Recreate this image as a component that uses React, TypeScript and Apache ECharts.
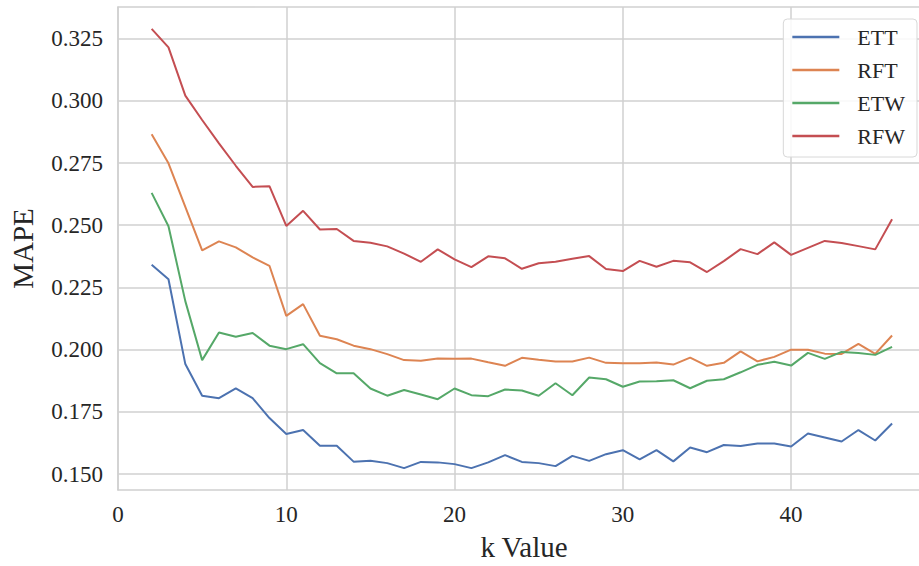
import React, { useEffect, useRef } from "react";
import * as echarts from "echarts";

const kValues = [2,3,4,5,6,7,8,9,10,11,12,13,14,15,16,17,18,19,20,21,22,23,24,25,26,27,28,29,30,31,32,33,34,35,36,37,38,39,40,41,42,43,44,45,46];

const ETT = [0.2341,0.2283,0.1942,0.1815,0.1805,0.1844,0.1805,0.1725,0.1661,0.1677,0.1614,0.1614,0.1550,0.1554,0.1544,0.1524,0.1549,0.1547,0.1540,0.1524,0.1547,0.1576,0.1549,0.1544,0.1532,0.1573,0.1553,0.1580,0.1596,0.1559,0.1596,0.1551,0.1607,0.1588,0.1617,0.1613,0.1623,0.1623,0.1611,0.1663,0.1647,0.1631,0.1677,0.1635,0.1703];
const RFT = [0.2866,0.2749,0.2574,0.2399,0.2435,0.2411,0.2371,0.2337,0.2136,0.2183,0.2056,0.2042,0.2016,0.2002,0.1982,0.1958,0.1955,0.1964,0.1963,0.1964,0.1949,0.1935,0.1967,0.1959,0.1952,0.1952,0.1968,0.1947,0.1945,0.1945,0.1948,0.1940,0.1968,0.1935,0.1947,0.1993,0.1953,0.1971,0.2000,0.2000,0.1984,0.1983,0.2023,0.1983,0.2057];
const ETW = [0.2630,0.2496,0.2195,0.1958,0.2069,0.2052,0.2067,0.2016,0.2002,0.2022,0.1946,0.1905,0.1905,0.1844,0.1815,0.1838,0.1820,0.1801,0.1844,0.1817,0.1813,0.1840,0.1836,0.1815,0.1865,0.1817,0.1888,0.1881,0.1851,0.1872,0.1873,0.1877,0.1845,0.1875,0.1881,0.1909,0.1939,0.1951,0.1936,0.1987,0.1963,0.1991,0.1987,0.1979,0.2011];
const RFW = [0.3289,0.3215,0.3021,0.2923,0.2829,0.2739,0.2654,0.2657,0.2497,0.2558,0.2483,0.2485,0.2437,0.2430,0.2415,0.2386,0.2353,0.2403,0.2363,0.2332,0.2375,0.2367,0.2325,0.2347,0.2353,0.2365,0.2376,0.2324,0.2316,0.2357,0.2333,0.2357,0.2351,0.2312,0.2356,0.2404,0.2384,0.2431,0.2381,0.2409,0.2437,0.2429,0.2416,0.2403,0.2524];

const seriesNames = ["ETT", "RFT", "ETW", "RFW"];
const seriesColors = ["#4c72b0", "#dd8452", "#55a868", "#c44e52"];
const xTicks = [0, 10, 20, 30, 40];
const yTicks = [0.15, 0.175, 0.2, 0.225, 0.25, 0.275, 0.3, 0.325];

const FONT = '"Liberation Serif", "DejaVu Serif", serif';
const TEXT = "#262626";
const GRIDC = "#d0d0d0";
const X_MIN = 0;
const X_MAX = 47.6;
const Y_MIN = 0.1436;
const Y_MAX = 0.3377;

export default function App() {
  const ref = useRef<HTMLDivElement>(null);
  useEffect(() => {
    if (!ref.current) return;
    const chart = echarts.init(ref.current, null, { renderer: "svg" });
    const all = [ETT, RFT, ETW, RFW];
    const spine = { show: true, lineStyle: { color: GRIDC, width: 1.5 } };
    chart.setOption({
      animation: false,
      backgroundColor: "#ffffff",
      textStyle: { fontFamily: FONT },
      grid: {
        left: 118,
        top: 7,
        bottom: 76,
        right: 0,
        show: false,
      },
      legend: {
        orient: "vertical",
        right: 2,
        top: 19,
        align: "left",
        icon: "rect",
        itemWidth: 47,
        itemHeight: 2.5,
        itemGap: 11,
        padding: [7, 12, 10, 9],
        backgroundColor: "rgba(255,255,255,0.85)",
        borderColor: "#d8d8d8",
        borderWidth: 1,
        borderRadius: 4,
        textStyle: {
          fontFamily: FONT,
          fontSize: 22,
          color: TEXT,
          padding: [0, 0, 0, 13],
        },
        data: seriesNames,
      },
      xAxis: [
        {
          type: "value",
          min: X_MIN,
          max: X_MAX,
          name: "k Value",
          nameLocation: "middle",
          nameGap: 42,
          nameTextStyle: {
            fontFamily: FONT,
            fontSize: 29,
            color: TEXT,
            padding: [0, 0, 0, 11],
          },
          axisLine: spine,
          axisTick: { show: false, customValues: xTicks },
          axisLabel: {
            customValues: xTicks,
            fontFamily: FONT,
            fontSize: 23,
            color: TEXT,
            margin: 13,
          },
          splitLine: { show: true, lineStyle: { color: GRIDC, width: 1.5 } },
        },
        {
          type: "value",
          position: "top",
          min: X_MIN,
          max: X_MAX,
          axisLine: spine,
          axisTick: { show: false },
          axisLabel: { show: false },
          splitLine: { show: false },
        },
      ],
      yAxis: {
        type: "value",
        min: Y_MIN,
        max: Y_MAX,
        name: "MAPE",
        nameLocation: "middle",
        nameGap: 81,
        nameTextStyle: { fontFamily: FONT, fontSize: 29, color: TEXT },
        axisLine: spine,
        axisTick: { show: false, customValues: yTicks },
        axisLabel: {
          customValues: yTicks,
          formatter: (v: number) => v.toFixed(3),
          fontFamily: FONT,
          fontSize: 23,
          color: TEXT,
          margin: 15,
        },
        splitLine: { show: true, lineStyle: { color: GRIDC, width: 1.5 } },
      },
      series: seriesNames.map((name, i) => ({
        name,
        type: "line",
        xAxisIndex: 0,
        data: kValues.map((k, j) => [k, all[i][j]]),
        showSymbol: false,
        symbol: "none",
        color: seriesColors[i],
        lineStyle: { color: seriesColors[i], width: 2 },
        z: 2 + i,
      })),
    });
    return () => chart.dispose();
  }, []);
  return (
    <div
      ref={ref}
      style={{ position: "fixed", left: 0, top: 0, width: 919, height: 566 }}
    />
  );
}
